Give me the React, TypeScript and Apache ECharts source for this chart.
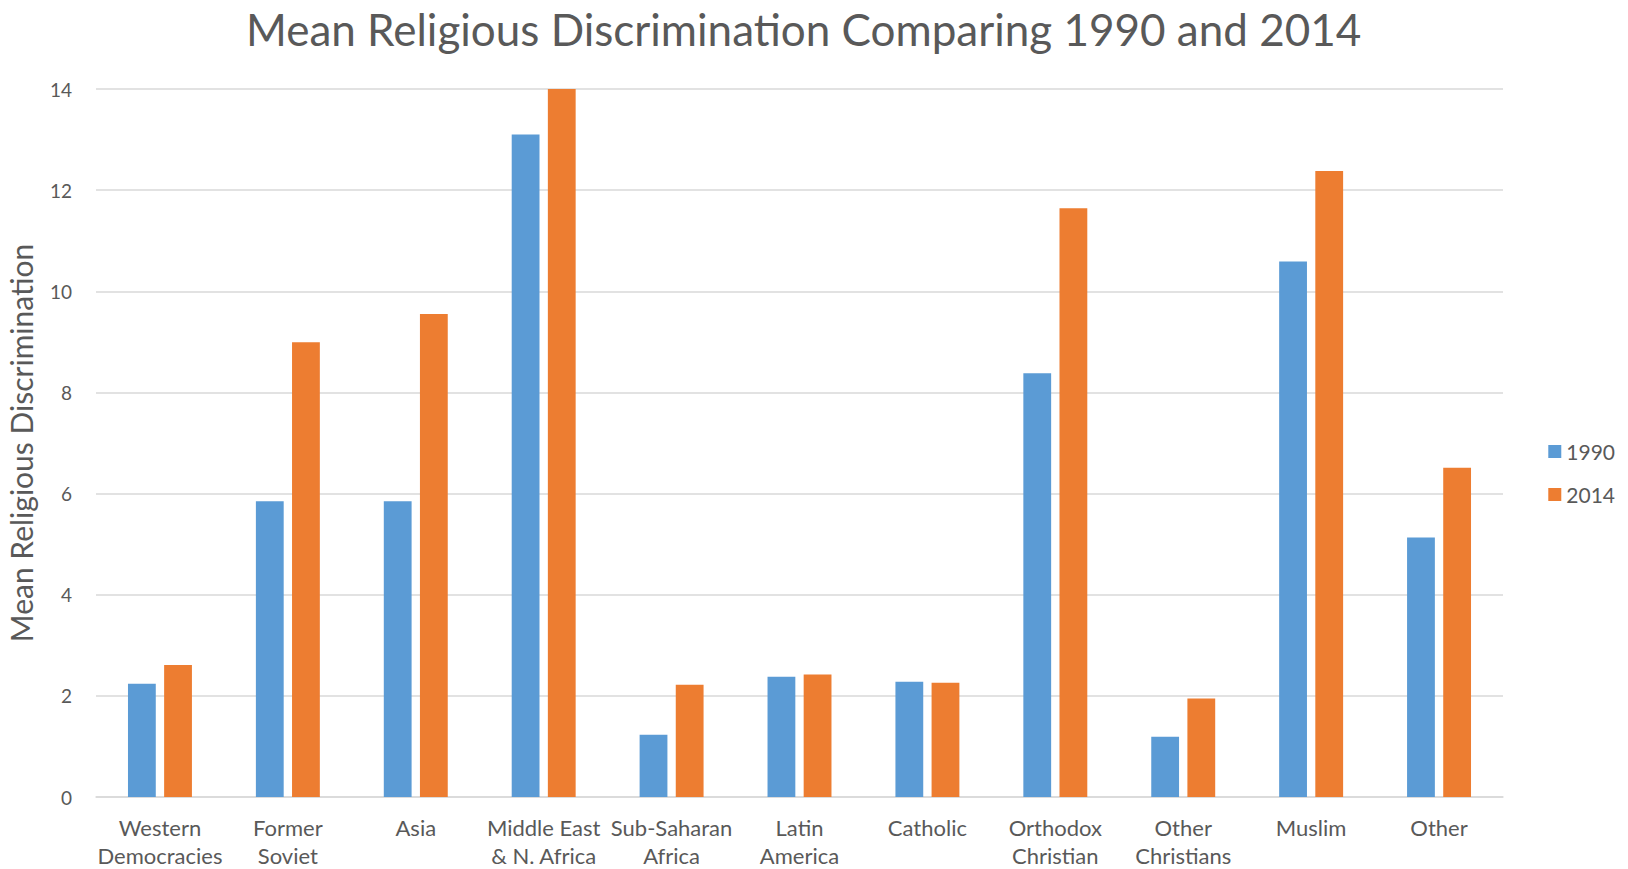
import React, { useEffect, useRef } from "react";
import * as echarts from "echarts";

const categories = [
  "Western\nDemocracies",
  "Former\nSoviet",
  "Asia",
  "Middle East\n& N. Africa",
  "Sub-Saharan\nAfrica",
  "Latin\nAmerica",
  "Catholic",
  "Orthodox\nChristian",
  "Other\nChristians",
  "Muslim",
  "Other",
];
const values1990 = [2.24, 5.85, 5.85, 13.1, 1.23, 2.38, 2.28, 8.38, 1.19, 10.59, 5.13];
const values2014 = [2.61, 8.99, 9.55, 14.0, 2.22, 2.42, 2.26, 11.64, 1.95, 12.38, 6.51];
const yTicks = { min: 0, max: 14, interval: 2 };

const FONT = "Lato";
const TEXT = "#595959";

export default function App() {
  const ref = useRef<HTMLDivElement>(null);
  useEffect(() => {
    document.body.style.margin = "0";
    const chart = echarts.init(ref.current!, null, { renderer: "svg" });
    chart.setOption({
      animation: false,
      backgroundColor: "#ffffff",
      title: {
        text: "Mean Religious Discrimination Comparing 1990 and 2014",
        left: 241,
        top: 2,
        textStyle: { fontFamily: FONT, fontSize: 44, fontWeight: "normal", color: TEXT },
      },
      legend: {
        orient: "vertical",
        right: 8,
        top: 436,
        itemWidth: 13,
        itemHeight: 13,
        itemGap: 22,
        icon: "rect",
        textStyle: { fontFamily: FONT, fontSize: 21, color: TEXT },
        data: ["1990", "2014"],
      },
      grid: {
        left: 96,
        right: 125,
        top: 89,
        bottom: 72,
        containLabel: false,
        outerBoundsMode: "none",
      },
      xAxis: {
        type: "category",
        data: categories,
        axisTick: { show: false },
        axisLine: { lineStyle: { color: "#D9D9D9", width: 1.5 } },
        axisLabel: {
          fontFamily: FONT,
          fontSize: 22,
          color: TEXT,
          lineHeight: 28,
          margin: 16,
          interval: 0,
        },
      },
      yAxis: {
        type: "value",
        min: yTicks.min,
        max: yTicks.max,
        interval: yTicks.interval,
        name: "Mean Religious Discrimination",
        nameLocation: "middle",
        nameGap: 60,
        nameTextStyle: { fontFamily: FONT, fontSize: 30, color: TEXT },
        axisLine: { show: false },
        axisTick: { show: false },
        splitLine: { lineStyle: { color: "#D9D9D9", width: 1.5 } },
        axisLabel: { fontFamily: FONT, fontSize: 19, color: TEXT, margin: 24 },
      },
      series: [
        {
          name: "1990",
          type: "bar",
          data: values1990,
          barGap: "30%",
          barCategoryGap: "50%",
          itemStyle: { color: "#5B9BD5" },
        },
        {
          name: "2014",
          type: "bar",
          data: values2014,
          itemStyle: { color: "#ED7D31" },
        },
      ],
    });
    return () => chart.dispose();
  }, []);
  return <div ref={ref} style={{ width: 1628, height: 869, position: "absolute", left: 0, top: 0 }} />;
}
